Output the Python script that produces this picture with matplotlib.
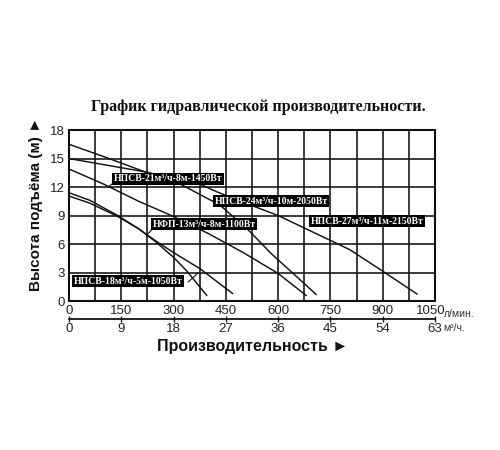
import matplotlib
matplotlib.use('Agg')
import matplotlib.pyplot as plt
from matplotlib.transforms import ScaledTranslation

# расход, л/мин и напор, м
flow_a = [0, 100, 218, 320, 433, 514, 580, 640, 709]
head_a = [16.5, 15.2, 13.6, 12.3, 10.1, 7.5, 5.0, 3.0, 0.7]
flow_b = [0, 218, 376, 424, 500, 600, 749, 806, 906, 998]
head_b = [15.0, 13.6, 12.3, 11.5, 10.4, 9.0, 6.4, 5.4, 3.0, 0.75]
flow_c = [0, 100, 200, 300, 400, 500, 600, 680]
head_c = [13.9, 12.3, 10.5, 8.9, 7.1, 5.1, 2.9, 0.6]
flow_d = [0, 60, 140, 200, 250, 300, 337, 395]
head_d = [11.4, 10.6, 9.0, 7.6, 6.2, 4.6, 3.2, 0.6]
flow_e = [0, 60, 140, 200, 250, 300, 376, 469]
head_e = [11.05, 10.3, 8.9, 7.6, 6.3, 5.1, 3.4, 0.8]

labels = ['НПСВ-21м³/ч-8м-1450Вт', 'НПСВ-24м³/ч-10м-2050Вт', 'НПСВ-27м³/ч-11м-2150Вт',
          'НФП-13м³/ч-8м-1100Вт', 'НПСВ-18м³/ч-5м-1050Вт']
x_ticks = [0, 150, 300, 450, 600, 750, 900, 1050]
m3_ticks = [0, 9, 18, 27, 36, 45, 54, 63]
y_ticks = [0, 3, 6, 9, 12, 15, 18]

sans = ['Liberation Sans', 'DejaVu Sans']
serif = ['Liberation Serif', 'DejaVu Serif']

fig = plt.figure(figsize=(5, 4.5), dpi=100)
ax = fig.add_axes([0.138, 0.331, 0.732, 0.38])
ax.set_xlim(0, 1050)
ax.set_ylim(0, 18)

ax.set_yticks(y_ticks)
ax.set_xticks(x_ticks)
ax.set_xticks(range(75, 1050, 150), minor=True)
ax.grid(True, color='#1a1a1a', lw=1.2)
ax.grid(True, which='minor', axis='x', color='#1a1a1a', lw=1.2)
ax.tick_params(which='both', length=0, labelsize=9.5, pad=3, colors='#222')
for t in ax.get_xticklabels() + ax.get_yticklabels():
    t.set_family(sans)
last = ax.get_xticklabels()[-1]
last.set_transform(last.get_transform() + ScaledTranslation(-4 / 100, 0, fig.dpi_scale_trans))
for s in ax.spines.values():
    s.set_linewidth(1.5)
    s.set_color('#111')

for fx, hy in [(flow_a, head_a), (flow_b, head_b), (flow_c, head_c),
               (flow_d, head_d), (flow_e, head_e)]:
    ax.plot(fx, hy, color='#111', lw=1.05, zorder=3)

box = dict(boxstyle='square,pad=0.15', fc='black', ec='none')
lab_pos = [(128, 12.85), (418, 10.5), (693, 8.4), (240, 8.1), (14, 2.07)]
for txt, (lx, ly) in zip(labels, lab_pos):
    ax.text(lx, ly, txt, color='white', fontsize=7, fontweight='bold', family=serif,
            ha='left', va='center', bbox=box, zorder=5)
# выноски
ax.plot([240, 227], [7.6, 7.1], color='#111', lw=0.8, zorder=4)
ax.plot([342, 370], [2.0, 2.95], color='#111', lw=0.8, zorder=4)
ax.plot([126, 112], [12.4, 12.0], color='#111', lw=0.8, zorder=4)

sec = ax.secondary_xaxis(-0.105, functions=(lambda v: v * 0.06, lambda v: v / 0.06))
sec.set_xticks(m3_ticks)
sec.tick_params(direction='inout', length=4, width=1, labelsize=9.5, pad=1, colors='#222')
sec.spines['bottom'].set_linewidth(1.2)
for t in sec.get_xticklabels():
    t.set_family(sans)

fig.text(0.887, 0.302, 'л/мин.', fontsize=7.5, family=sans, color='#333', va='center')
fig.text(0.887, 0.271, 'м³/ч.', fontsize=7.5, family=sans, color='#333', va='center')

fig.text(0.516, 0.762, 'График гидравлической производительности.', fontsize=11.5,
         fontweight='bold', family=serif, ha='center', va='center', color='#111')
fig.text(0.072, 0.548, 'Высота подъёма (м) ►', fontsize=11, fontweight='bold', family=sans,
         rotation=90, ha='center', va='center', color='#111')
fig.text(0.506, 0.231, 'Производительность ►', fontsize=11.5, fontweight='bold', family=sans,
         ha='center', va='center', color='#111')

fig.savefig('out.png', dpi=100, facecolor='white')
